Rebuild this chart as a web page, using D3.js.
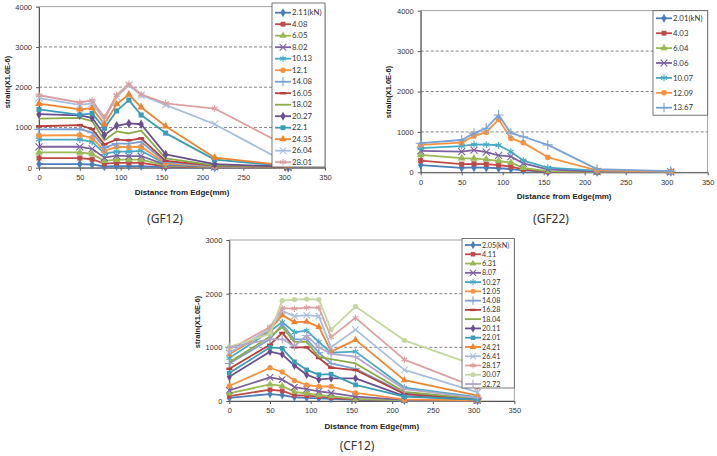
<!DOCTYPE html>
<html lang="en">
<head>
<meta charset="UTF-8">
<title>Strain vs distance from edge</title>
<style>
  body { margin: 0; background: #fff; }
  svg { display: block; font-family: Lato, "Open Sans", sans-serif; }
  .title { font-family: "Liberation Sans", Arial, sans-serif; font-weight: bold; }
</style>
</head>
<body>
<script src="https://cdnjs.cloudflare.com/ajax/libs/d3/7.8.2/d3.min.js"></script>
<script>

// distances of the gauges (mm)
const distances = [0, 50, 65, 80, 95, 110, 125, 155, 215, 305];
const xTicks = [0, 50, 100, 150, 200, 250, 300, 350];
const gfYTicks = [0, 1000, 2000, 3000, 4000];
const cfYTicks = [0, 1000, 2000, 3000];

// GF12
const gf12Loads = ["2.11(kN)", "4.08", "6.05", "8.02", "10.13", "12.1", "14.08",
  "16.05", "18.02", "20.27", "22.1", "24.35", "26.04", "28.01"];
const gf12Strain = [
  [90, 90, 80, 30, 40, 40, 40, 10, 5, 0],
  [240, 240, 210, 100, 120, 120, 120, 30, 10, 5],
  [380, 380, 340, 170, 200, 200, 200, 50, 15, 5],
  [520, 520, 470, 250, 300, 290, 290, 70, 20, 5],
  [700, 700, 640, 350, 400, 400, 420, 90, 30, 10],
  [800, 810, 740, 420, 520, 510, 520, 110, 35, 10],
  [950, 960, 870, 500, 600, 600, 640, 140, 40, 15],
  [1030, 1060, 960, 580, 700, 680, 730, 170, 50, 15],
  [1220, 1240, 1160, 680, 900, 850, 920, 230, 60, 20],
  [1330, 1300, 1240, 810, 1040, 1100, 1080, 330, 90, 25],
  [1450, 1310, 1350, 980, 1410, 1680, 1310, 860, 200, 40],
  [1590, 1450, 1480, 1080, 1580, 1820, 1500, 1030, 250, 50],
  [1730, 1560, 1600, 1200, 1760, 2050, 1800, 1560, 1080, 100],
  [1800, 1620, 1670, 1250, 1800, 2080, 1820, 1600, 1470, 520]
];

// GF22
const gf22Loads = ["2.01(kN)", "4.03", "6.04", "8.06", "10.07", "12.09", "13.67"];
const gf22Strain = [
  [180, 110, 120, 115, 100, 80, 50, 10, 5, 5],
  [290, 200, 210, 200, 180, 140, 70, 15, 5, 20],
  [430, 350, 340, 320, 280, 240, 110, 30, 10, 5],
  [530, 510, 550, 500, 420, 390, 220, 75, 20, 10],
  [600, 650, 690, 685, 670, 510, 290, 115, 40, 15],
  [680, 735, 900, 990, 1310, 840, 735, 370, 50, 20],
  [720, 800, 970, 1090, 1420, 970, 880, 680, 80, 30]
];

// CF12
const cf12Loads = ["2.05(kN)", "4.11", "6.31", "8.07", "10.27", "12.05", "14.08", "16.28",
  "18.04", "20.11", "22.01", "24.21", "26.41", "28.17", "30.07", "32.72"];
const cf12Strain = [
  [60, 130, 110, 70, 60, 50, 40, 20, 5, 0],
  [90, 210, 190, 110, 100, 80, 60, 30, 10, 5],
  [140, 310, 280, 170, 140, 110, 90, 40, 10, 5],
  [200, 440, 400, 260, 220, 180, 150, 80, 20, 5],
  [800, 1300, 1470, 1280, 1310, 1100, 900, 920, 250, 70],
  [280, 620, 540, 380, 300, 270, 270, 150, 30, 10],
  [700, 1150, 1430, 1150, 1150, 900, 700, 600, 150, 40],
  [600, 1050, 1270, 1000, 1000, 800, 620, 577, 130, 35],
  [720, 1200, 1380, 1100, 1100, 820, 780, 700, 170, 40],
  [450, 920, 870, 660, 490, 400, 420, 422, 90, 25],
  [520, 1000, 980, 730, 580, 490, 500, 300, 80, 25],
  [870, 1330, 1600, 1470, 1480, 1380, 920, 1140, 390, 100],
  [900, 1340, 1680, 1580, 1600, 1580, 1000, 1330, 580, 160],
  [960, 1380, 1730, 1720, 1740, 1740, 1190, 1550, 770, 240],
  [1010, 1250, 1870, 1890, 1900, 1890, 1330, 1760, 1130, 650],
  [1000, 1150, 1150, 1020, 1220, 1000, 880, 825, 220, 60]
];

// excel-like series styles
const colors = ["#4a7ebb", "#be4b48", "#98b954", "#7d60a0", "#46aac5", "#f69240",
  "#7aa1d3", "#b5403d", "#8aab47", "#6a4f90", "#3a9cb6", "#ec8430",
  "#a7bfde", "#dba09f", "#c4d79f", "#b4a6c9"];
const markers = ["diamond", "square", "triangle", "x", "star", "circle",
  "plus", "dash", "none", "diamond", "square", "triangle",
  "x", "star", "circle", "plus"];

const svg = d3.select("body").append("svg")
  .attr("width", 717)
  .attr("height", 456);

function marker(sel, type, color, size) {
  const filled = { diamond: d3.symbolDiamond, square: d3.symbolSquare,
    triangle: d3.symbolTriangle, circle: d3.symbolCircle };
  const stroked = { x: d3.symbolX, star: d3.symbolAsterisk, plus: d3.symbolPlus };
  if (filled[type]) {
    sel.append("path")
      .attr("d", d3.symbol().type(filled[type]).size(size))
      .attr("fill", color);
  } else if (stroked[type]) {
    sel.append("path")
      .attr("d", d3.symbol().type(stroked[type]).size(size * 1.3))
      .attr("fill", "none")
      .attr("stroke", color)
      .attr("stroke-width", 1.1);
  } else if (type == "dash") {
    sel.append("line")
      .attr("x1", -3).attr("x2", 3)
      .attr("stroke", color).attr("stroke-width", 2.4);
  }
}

function drawPanel(p, loads, strains) {
  const x = d3.scaleLinear().domain([0, 350]).range([p.left, p.right]);
  const y = d3.scaleLinear().domain([0, p.yMax]).range([p.bottom, p.top]);
  const g = svg.append("g");

  // plot border + dashed grid
  g.append("rect")
    .attr("x", p.left).attr("y", p.top)
    .attr("width", p.right - p.left).attr("height", p.bottom - p.top)
    .attr("fill", "none").attr("stroke", "#8a8a8a").attr("stroke-width", 0.8);

  g.selectAll(".grid")
    .data(p.yTicks.filter(t => t > 0 && t < p.yMax))
    .enter()
    .append("line")
      .attr("x1", p.left).attr("x2", p.right)
      .attr("y1", d => y(d)).attr("y2", d => y(d))
      .attr("stroke", "#666")
      .attr("stroke-width", 0.8)
      .attr("stroke-dasharray", "3,2");

  // axes
  const gx = g.append("g")
    .attr("transform", `translate(0,${p.bottom})`)
    .call(d3.axisBottom(x).tickValues(xTicks).tickFormat(d3.format("d"))
      .tickSize(3).tickSizeOuter(0).tickPadding(4));
  const gy = g.append("g")
    .attr("transform", `translate(${p.left},0)`)
    .call(d3.axisLeft(y).tickValues(p.yTicks).tickFormat(d3.format("d"))
      .tickSize(3).tickSizeOuter(0).tickPadding(4));
  [gx, gy].forEach(a => {
    a.select(".domain").attr("stroke", "#555");
    a.selectAll(".tick line").attr("stroke", "#555");
    a.selectAll("text").attr("fill", "#333").style("font-size", "7.5px");
  });

  g.append("text")
    .attr("class", "title")
    .attr("x", (p.left + p.right) / 2)
    .attr("y", p.xTitleY)
    .attr("text-anchor", "middle")
    .attr("font-size", 8)
    .attr("fill", "#222")
    .text("Distance from Edge(mm)");

  g.append("text")
    .attr("class", "title")
    .attr("transform", `translate(${p.yTitleX},${p.yTitleY}) rotate(-90)`)
    .attr("text-anchor", "middle")
    .attr("font-size", 7.5)
    .attr("fill", "#222")
    .text("strain(X1.0E-6)");

  // series
  const line = d3.line()
    .x((d, i) => x(distances[i]))
    .y(d => y(d));

  strains.forEach((s, k) => {
    const sg = g.append("g");
    sg.append("path")
      .attr("d", line(s))
      .attr("fill", "none")
      .attr("stroke", colors[k])
      .attr("stroke-width", 1.8)
      .attr("stroke-linejoin", "round");
    sg.selectAll("g.pt")
      .data(s)
      .enter()
      .append("g")
        .attr("transform", (d, i) => `translate(${x(distances[i])},${y(d)})`)
        .each(function () { marker(d3.select(this), markers[k], colors[k], p.mSize); });
  });

  // legend
  const lg = g.append("g");
  lg.append("rect")
    .attr("x", p.lx).attr("y", p.ly)
    .attr("width", p.lw).attr("height", p.lh)
    .attr("fill", "#fff")
    .attr("stroke", "#555")
    .attr("stroke-width", 0.8);
  loads.forEach((name, k) => {
    const yy = p.first + k * p.step;
    const it = lg.append("g").attr("transform", `translate(${p.lx + 3},${yy})`);
    it.append("line")
      .attr("x1", 0).attr("x2", 16)
      .attr("stroke", colors[k]).attr("stroke-width", 1.8);
    marker(it.append("g").attr("transform", "translate(8,0)"), markers[k], colors[k], p.mSize * 0.9);
    it.append("text")
      .attr("x", 17)
      .attr("dy", "0.35em")
      .attr("font-size", p.lFont)
      .attr("fill", "#333")
      .text(name);
  });

  svg.append("text")
    .attr("x", p.capX).attr("y", p.capY)
    .attr("text-anchor", "middle")
    .attr("font-family", "'Noto Sans', sans-serif")
    .attr("font-size", 12)
    .attr("fill", "#333")
    .text(p.caption);
}

drawPanel({
  left: 39, right: 325, top: 6.7, bottom: 167.7, yMax: 4000, yTicks: gfYTicks,
  xTitleY: 195, yTitleX: 10, yTitleY: 82,
  lx: 272, ly: 3, lw: 53, lh: 164, first: 12.7, step: 11.5, lFont: 7.8, mSize: 26,
  caption: "(GF12)", capX: 165, capY: 223
}, gf12Loads, gf12Strain);

drawPanel({
  left: 420.7, right: 707.7, top: 10.7, bottom: 172.3, yMax: 4000, yTicks: gfYTicks,
  xTitleY: 199, yTitleX: 391, yTitleY: 92,
  lx: 653, ly: 10.7, lw: 54.7, lh: 104.5, first: 18.3, step: 14.9, lFont: 7.8, mSize: 26,
  caption: "(GF22)", capX: 551, capY: 223
}, gf22Loads, gf22Strain);

drawPanel({
  left: 229.3, right: 514.3, top: 240, bottom: 401, yMax: 3000, yTicks: cfYTicks,
  xTitleY: 429, yTitleX: 200, yTitleY: 322,
  lx: 462, ly: 238.5, lw: 52.3, lh: 149.5, first: 245, step: 9.27, lFont: 7.2, mSize: 22,
  caption: "(CF12)", capX: 357, capY: 450
}, cf12Loads, cf12Strain);

</script>
</body>
</html>
